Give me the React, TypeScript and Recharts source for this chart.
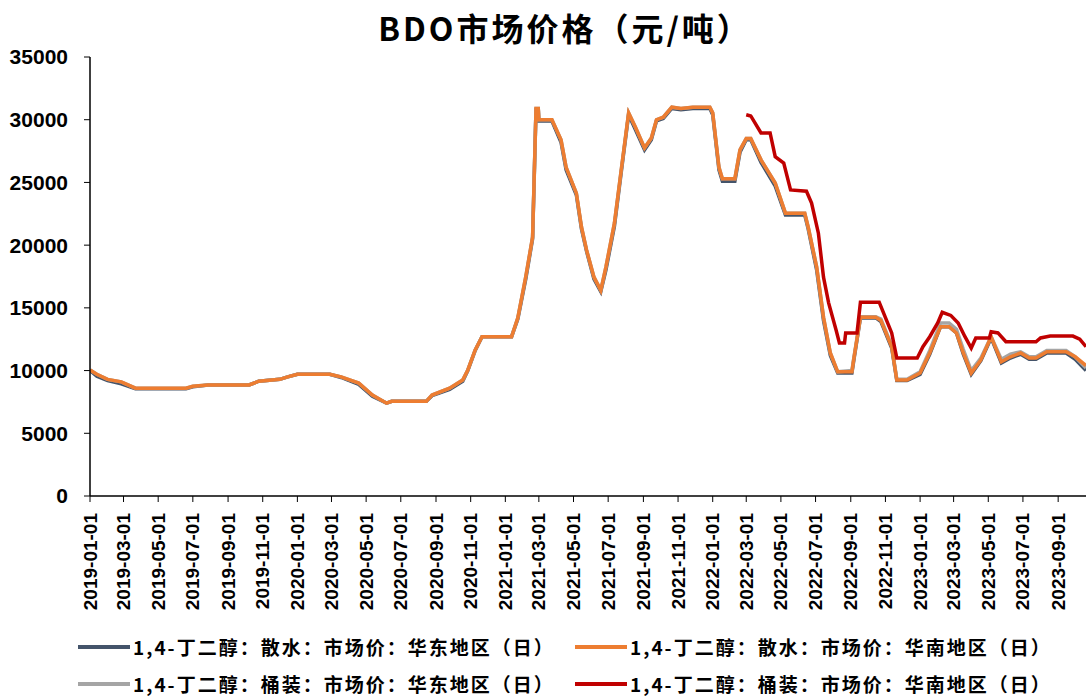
import React from "react";
import { LineChart, Line, XAxis, YAxis } from "recharts";

// 散水 series + 桶装华东 share these dates
const MAIN_DATES = [
  "2019-01-01","2019-01-13","2019-02-01","2019-02-25","2019-03-22","2019-06-19","2019-07-01","2019-07-28",
  "2019-10-08","2019-10-25","2019-12-01","2019-12-15","2020-01-01","2020-02-27","2020-03-18","2020-04-18",
  "2020-05-12","2020-06-06","2020-06-15","2020-08-15","2020-08-25","2020-09-25","2020-10-18","2020-10-27",
  "2020-11-09","2020-11-21","2021-01-12","2021-01-23","2021-02-06","2021-02-18","2021-02-24","2021-02-28",
  "2021-03-01","2021-03-24","2021-04-09","2021-04-18","2021-05-06","2021-05-15","2021-05-24","2021-06-06",
  "2021-06-18","2021-06-27","2021-07-12","2021-07-24","2021-08-06","2021-08-18","2021-09-03","2021-09-15",
  "2021-09-24","2021-10-06","2021-10-21","2021-11-06","2021-11-27","2021-12-27","2022-01-01","2022-01-12",
  "2022-01-18","2022-02-09","2022-02-18","2022-03-01","2022-03-09","2022-03-27","2022-04-21","2022-05-09",
  "2022-06-12","2022-06-18","2022-07-03","2022-07-15","2022-07-27","2022-08-09","2022-09-03","2022-09-06",
  "2022-09-18","2022-10-15","2022-10-24","2022-11-12","2022-11-21","2022-12-09","2023-01-01","2023-01-18",
  "2023-02-06","2023-02-21","2023-03-06","2023-03-18","2023-04-01","2023-04-18","2023-05-06","2023-05-24",
  "2023-06-09","2023-06-27","2023-07-12","2023-07-24","2023-08-12","2023-09-15","2023-10-01","2023-10-20",
];

const SOUTH_BULK = [
  10050,9700,9300,9100,8600,8600,8750,8850,
  8850,9150,9300,9500,9700,9700,9500,9000,
  8050,7400,7550,7550,8050,8600,9250,10050,
  11650,12700,12700,14200,17500,20650,30900,30900,
  30000,30000,28400,26200,24150,21450,19600,17450,
  16400,18250,21750,26000,30550,29400,27750,28550,
  30000,30200,31000,30900,31000,31000,30550,26200,
  25300,25300,27600,28500,28500,26800,24950,22550,
  22550,21450,18250,14250,11400,9900,9900,10850,
  14250,14250,14000,11900,9250,9250,9800,11400,
  13500,13500,13000,11400,9800,10850,12700,10700,
  11100,11400,11000,11000,11500,11500,11100,10400,
];

const EAST_BULK = [
  10000,9550,9200,8950,8550,8550,8700,8850,
  8850,9150,9300,9500,9700,9700,9450,8900,
  7950,7400,7550,7550,8000,8500,9150,10000,
  11600,12700,12700,14100,17300,20500,30800,30800,
  29900,29900,28200,26000,24000,21300,19500,17300,
  16300,18000,21500,25800,30400,29200,27600,28400,
  29900,30100,30900,30800,30900,30900,30400,26000,
  25100,25100,27400,28400,28400,26600,24700,22400,
  22400,21300,18000,14000,11200,9800,9800,10700,
  14200,14200,13900,11800,9200,9200,9700,11300,
  13500,13500,13000,11300,9700,10800,12600,10600,
  11000,11300,10900,10900,11400,11400,10900,10000,
];

const EAST_DRUM = [
  10050,9700,9300,9100,8600,8600,8750,8850,
  8850,9150,9300,9500,9700,9700,9500,9000,
  8050,7400,7550,7550,8050,8600,9250,10050,
  11650,12700,12700,14200,17500,20650,30900,30900,
  30000,30000,28400,26200,24150,21450,19600,17450,
  16400,18250,21750,26000,30550,29400,27750,28550,
  30000,30200,31000,30900,31000,31000,30550,26200,
  25300,25300,27600,28500,28500,26800,24950,22550,
  22550,21450,18250,14250,11400,9900,10000,10900,
  14300,14300,14100,12000,9300,9300,9900,11600,
  13800,13800,13300,11700,10000,11000,12700,10900,
  11300,11500,11100,11100,11600,11600,11100,10200,
];

// 桶装华南
const SOUTH_DRUM_DATES = [
  "2022-03-01","2022-03-09","2022-03-27","2022-04-12","2022-04-21","2022-05-06","2022-05-18","2022-06-15",
  "2022-06-24","2022-07-06","2022-07-15","2022-07-24","2022-08-06","2022-08-12","2022-08-21","2022-08-23",
  "2022-09-12","2022-09-18","2022-10-21","2022-11-03","2022-11-12","2022-11-21","2022-12-27","2023-01-06",
  "2023-01-18","2023-02-01","2023-02-09","2023-02-24","2023-03-09","2023-03-21","2023-04-01","2023-04-09",
  "2023-05-03","2023-05-06","2023-05-18","2023-06-01","2023-07-24","2023-08-01","2023-08-18","2023-09-27",
  "2023-10-09","2023-10-20",
];
const SOUTH_DRUM = [
  30400,30300,28950,28950,27050,26550,24400,24300,
  23350,20950,17450,15400,13250,12200,12200,13000,
  13000,15450,15450,14000,13000,11000,11000,11900,
  12700,13800,14650,14400,13800,12700,11800,12600,
  12600,13100,13000,12300,12300,12600,12750,12750,
  12500,11900,
];

const X_TICKS = [
  "2019-01-01","2019-03-01","2019-05-01","2019-07-01","2019-09-01","2019-11-01",
  "2020-01-01","2020-03-01","2020-05-01","2020-07-01","2020-09-01","2020-11-01",
  "2021-01-01","2021-03-01","2021-05-01","2021-07-01","2021-09-01","2021-11-01",
  "2022-01-01","2022-03-01","2022-05-01","2022-07-01","2022-09-01","2022-11-01",
  "2023-01-01","2023-03-01","2023-05-01","2023-07-01","2023-09-01",
];
const Y_TICKS = [0, 5000, 10000, 15000, 20000, 25000, 30000, 35000];
const X_START = "2019-01-01";
const X_END = "2023-10-20";

const SERIES_NAMES = [
  "1,4-丁二醇：散水：市场价：华东地区（日）",
  "1,4-丁二醇：散水：市场价：华南地区（日）",
  "1,4-丁二醇：桶装：市场价：华东地区（日）",
  "1,4-丁二醇：桶装：市场价：华南地区（日）",
];
const COLORS = ["#44546A", "#ED7D31", "#A5A5A5", "#C00000"];

const toT = (s: string) => {
  const [y, m, d] = s.split("-").map(Number);
  return Date.UTC(y, m - 1, d);
};
const pad = (n: number) => (n < 10 ? "0" + n : "" + n);
const fmt = (t: number) => {
  const d = new Date(t);
  return `${d.getUTCFullYear()}-${pad(d.getUTCMonth() + 1)}-${pad(d.getUTCDate())}`;
};

const build = (dates: string[], vals: number[]) => dates.map((d, i) => ({ t: toT(d), v: vals[i] }));

const eastBulkData = build(MAIN_DATES, EAST_BULK);
const southBulkData = build(MAIN_DATES, SOUTH_BULK);
const eastDrumData = build(MAIN_DATES, EAST_DRUM);
const southDrumData = build(SOUTH_DRUM_DATES, SOUTH_DRUM);

const XTick = (props: any) => {
  const { x, y, payload } = props;
  return (
    <text
      x={x}
      y={y}
      transform={`rotate(-90 ${x} ${y})`}
      textAnchor="end"
      dominantBaseline="central"
      fontSize={19}
      fontWeight="bold"
      fontFamily='"Liberation Sans", Arial, sans-serif'
      fill="#000"
    >
      {fmt(payload.value)}
    </text>
  );
};

const LegendItem = ({ color, name, left, top }: any) => (
  <div style={{ position: "absolute", left, top, display: "flex", alignItems: "center", height: 24 }}>
    <div style={{ width: 52, height: 4, background: color, marginRight: 3 }} />
    <span
      style={{
        fontSize: 19,
        lineHeight: "24px",
        letterSpacing: 2,
        fontWeight: "bold",
        fontFamily: '"Noto Sans CJK SC", sans-serif',
        color: "#000",
        whiteSpace: "nowrap",
      }}
    >
      {name}
    </span>
  </div>
);

export default function App() {
  return (
    <div style={{ position: "absolute", left: 0, top: 0, width: 1086, height: 696, background: "#fff", overflow: "hidden" }}>
      <div
        style={{
          position: "absolute",
          top: 8,
          left: 22,
          width: 1086,
          textAlign: "center",
          fontSize: 32,
          lineHeight: "38px",
          letterSpacing: 3,
          fontWeight: "bold",
          fontFamily: '"Noto Sans CJK SC", sans-serif',
          color: "#000",
        }}
      >
        BDO市场价格（元/吨）
      </div>
      <LineChart width={1086} height={696} margin={{ top: 57, right: 0, bottom: 90, left: 0 }}>
        <XAxis
          type="number"
          dataKey="t"
          domain={[toT(X_START), toT(X_END)]}
          allowDataOverflow
          ticks={X_TICKS.map(toT)}
          tick={<XTick />}
          tickSize={6}
          tickMargin={11}
          height={110}
          interval={0}
          axisLine={{ stroke: "#000", strokeWidth: 1.5 }}
          tickLine={{ stroke: "#000", strokeWidth: 1 }}
        />
        <YAxis
          type="number"
          domain={[0, 35000]}
          ticks={Y_TICKS}
          interval={0}
          width={90}
          tickSize={6}
          tickMargin={16}
          axisLine={{ stroke: "#000", strokeWidth: 1.5 }}
          tickLine={{ stroke: "#000", strokeWidth: 1 }}
          tick={{ fill: "#000", fontSize: 21, fontWeight: "bold", fontFamily: '"Liberation Sans", Arial, sans-serif' }}
        />
        <Line data={eastBulkData} dataKey="v" name={SERIES_NAMES[0]} stroke={COLORS[0]} strokeWidth={3.5} dot={false} type="linear" isAnimationActive={false} />
        <Line data={eastDrumData} dataKey="v" name={SERIES_NAMES[2]} stroke={COLORS[2]} strokeWidth={3.5} dot={false} type="linear" isAnimationActive={false} />
        <Line data={southBulkData} dataKey="v" name={SERIES_NAMES[1]} stroke={COLORS[1]} strokeWidth={3.5} dot={false} type="linear" isAnimationActive={false} />
        <Line data={southDrumData} dataKey="v" name={SERIES_NAMES[3]} stroke={COLORS[3]} strokeWidth={3.5} dot={false} type="linear" isAnimationActive={false} />
      </LineChart>
      <LegendItem color={COLORS[0]} name={SERIES_NAMES[0]} left={78} top={635} />
      <LegendItem color={COLORS[1]} name={SERIES_NAMES[1]} left={575} top={635} />
      <LegendItem color={COLORS[2]} name={SERIES_NAMES[2]} left={78} top={672} />
      <LegendItem color={COLORS[3]} name={SERIES_NAMES[3]} left={575} top={672} />
    </div>
  );
}
